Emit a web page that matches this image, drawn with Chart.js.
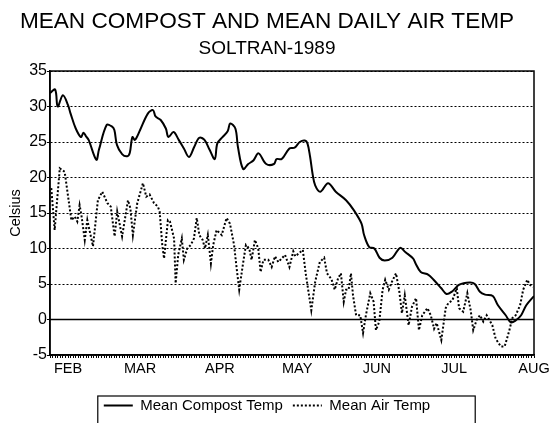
<!DOCTYPE html>
<html>
<head>
<meta charset="utf-8">
<script src="https://cdn.jsdelivr.net/npm/chart.js@4.4.0/dist/chart.umd.min.js"></script>
<style>
  body { margin: 0; background: #fff; }
</style>
</head>
<body>
<canvas id="grafico" width="558" height="423"></canvas>
<script>
// dias contados a partir de 25 de janeiro de 1989
const monthNames = ['FEB', 'MAR', 'APR', 'MAY', 'JUN', 'JUL', 'AUG'];
const monthStartDays = [7, 35, 66, 96, 127, 157, 188];
const yTicks = [-5, 0, 5, 10, 15, 20, 25, 30, 35];

const compostDays = [0, 2, 3, 5, 7, 8, 10, 12, 13, 14, 15, 18, 19, 22, 24, 25, 26, 28, 30, 31, 32, 33, 35, 38, 40,
  41, 43, 45, 46, 48, 50, 52, 54, 56, 58, 60, 62, 64, 65, 67, 69, 70, 72, 73, 75, 77, 79, 81, 84, 87, 88, 90,
  93, 95, 97, 99, 100, 101, 102, 103, 105, 108, 111, 115, 118, 121, 122, 124, 126, 128, 130, 133, 136, 138,
  141, 142, 144, 147, 149, 152, 154, 156, 159, 163, 165, 167, 169, 172, 174, 177, 179, 181, 183, 185, 188];
const compostTemp = [31.9, 32.4, 30.0, 31.6, 30.2, 29.0, 26.9, 25.7, 26.3, 25.8, 25.3, 22.5, 23.9, 27.4, 27.2, 26.7,
  24.6, 23.3, 23.0, 23.5, 25.7, 25.3, 26.7, 29.0, 29.5, 28.6, 28.1, 26.9, 25.7, 26.4, 25.3, 24.1, 22.9, 24.3,
  25.6, 25.3, 23.9, 22.6, 24.8, 25.7, 26.5, 27.6, 26.9, 24.3, 21.2, 21.9, 22.4, 23.4, 21.9, 21.9, 22.6, 22.6,
  24.1, 24.2, 25.0, 25.2, 24.8, 23.0, 20.5, 18.9, 18.0, 19.2, 18.0, 16.8, 15.4, 13.5, 11.9, 10.2, 10.0, 8.7,
  8.3, 8.7, 10.1, 9.5, 8.6, 7.9, 6.7, 6.3, 5.6, 4.4, 3.6, 3.9, 4.9, 5.2, 5.0, 3.9, 3.5, 3.3, 2.0, 0.6, -0.4,
  -0.1, 0.6, 2.0, 3.3];

const airDays = [0.5, 1.8, 3.8, 5.7, 8.3, 9.6, 10.6, 11.5, 12.2, 13.5, 14.5, 16.7, 18.6, 20.3, 22.3, 23.6, 25.1,
  26.1, 28.0, 30.3, 31.2, 32.2, 33.9, 36.1, 37.4, 38.7, 40.4, 41.9, 42.6, 43.6, 44.3, 45.8, 46.6, 48.2, 48.8,
  49.8, 51.2, 52.0, 53.3, 54.7, 55.9, 57.0, 58.0, 59.3, 60.2, 61.3, 61.9, 62.5, 63.4, 64.7, 66.7, 68.6, 69.9,
  71.5, 72.5, 73.5, 74.9, 76.1, 77.4, 78.3, 79.6, 80.9, 81.8, 82.9, 84.8, 86.1, 87.4, 88.7, 90.0, 91.3, 93.0,
  94.5, 95.3, 96.6, 98.2, 99.4, 101.5, 103.0, 104.8, 106.5, 107.6, 109.3, 110.6, 111.9, 113.0, 114.1, 115.0,
  116.0, 116.9, 117.7, 118.9, 120.5, 121.6, 122.7, 124.4, 125.7, 126.6, 127.9, 129.2, 130.2, 131.6, 132.8,
  134.4, 135.7, 136.7, 137.8, 139.3, 140.6, 142.2, 143.3, 144.6, 146.6, 147.9, 149.2, 150.2, 152.0, 153.7,
  154.7, 156.3, 158.0, 158.9, 160.5, 162.1, 163.4, 164.4, 165.7, 167.0, 168.3, 169.6, 171.8, 173.1, 175.1,
  176.6, 178.3, 179.6, 180.9, 182.6, 183.8, 185.4, 186.4, 187.7];
const airTemp = [18.5, 12.6, 21.3, 20.8, 14.0, 14.5, 13.8, 16.1, 14.7, 11.2, 14.0, 10.3, 16.8, 18.0, 16.4, 15.9,
  11.7, 15.2, 11.7, 16.8, 15.7, 11.9, 16.4, 19.2, 17.3, 17.6, 16.4, 15.9, 15.2, 10.5, 8.6, 14.0, 13.8, 11.4,
  5.1, 9.1, 11.4, 8.4, 10.0, 10.5, 11.4, 14.3, 11.9, 11.2, 10.0, 11.9, 10.0, 7.9, 10.5, 12.6, 11.9, 14.3, 13.5,
  10.5, 7.2, 4.2, 7.7, 10.5, 10.0, 8.4, 11.2, 10.0, 6.7, 8.4, 8.4, 7.4, 8.9, 8.1, 8.6, 9.1, 7.4, 9.6, 8.9, 9.3,
  9.8, 6.3, 1.3, 5.3, 8.1, 8.7, 6.5, 5.7, 4.2, 5.8, 6.5, 2.5, 4.2, 4.2, 6.5, 3.4, 0.6, 0.6, -1.9, 0.6, 3.7, 2.5,
  -1.5, -0.3, 4.2, 5.6, 4.2, 5.3, 6.5, 3.9, 0.9, 3.4, -0.8, 1.8, 3.0, -1.5, 0.6, 1.6, 0.6, -1.3, -0.5, -2.9,
  1.6, 2.3, 2.7, 4.4, 1.6, 1.1, 3.7, 1.3, -1.5, -0.1, 0.6, -0.3, 0.6, -0.8, -2.7, -3.8, -3.8, -1.7, 0.2, 0.6,
  2.0, 4.2, 5.6, 4.9, 4.6];

Chart.defaults.font.family = '"Liberation Sans", Arial, sans-serif';
Chart.defaults.color = '#000';

// moldura do gráfico, linha do zero e caixa da legenda
const moldura = {
  id: 'moldura',
  beforeDatasetsDraw(chart) {
    const { ctx, chartArea: a, scales: { y } } = chart;
    ctx.save();
    ctx.strokeStyle = '#000';
    ctx.lineWidth = 1.5;
    ctx.strokeRect(a.left, a.top, a.right - a.left, a.bottom - a.top);
    const y0 = y.getPixelForValue(0);
    ctx.lineWidth = 1.3;
    ctx.beginPath();
    ctx.moveTo(a.left, y0);
    ctx.lineTo(a.right, y0);
    ctx.stroke();
    ctx.restore();
  },
  afterDraw(chart) {
    const hb = chart.legend.legendHitBoxes;
    if (!hb || !hb.length) return;
    const last = hb[hb.length - 1];
    const ctx = chart.ctx;
    const left = hb[0].left - 6;
    const right = last.left + last.width + 45;
    const top = hb[0].top - 2;
    ctx.save();
    ctx.strokeStyle = '#000';
    ctx.lineWidth = 1.2;
    ctx.strokeRect(left, top, right - left, chart.height + 5 - top);
    ctx.restore();
  }
};

new Chart(document.getElementById('grafico'), {
  type: 'line',
  data: {
    datasets: [
      {
        label: 'Mean Compost Temp',
        data: compostDays.map((d, i) => ({ x: d, y: compostTemp[i] })),
        borderColor: '#000',
        backgroundColor: 'rgba(0,0,0,0)',
        borderWidth: 2,
        pointRadius: 0,
        tension: 0.35
      },
      {
        label: 'Mean Air Temp',
        data: airDays.map((d, i) => ({ x: d, y: airTemp[i] })),
        borderColor: '#000',
        backgroundColor: 'rgba(0,0,0,0)',
        borderWidth: 2,
        borderDash: [2, 2],
        pointRadius: 0,
        tension: 0
      }
    ]
  },
  options: {
    responsive: false,
    animation: false,
    devicePixelRatio: 1,
    layout: { padding: { top: 0, right: 24, bottom: 0, left: 0 } },
    plugins: {
      title: {
        display: true,
        text: 'MEAN COMPOST AND MEAN DAILY AIR TEMP',
        font: { size: 22.6, weight: 'normal' },
        padding: { top: 8, bottom: 0 }
      },
      subtitle: {
        display: true,
        text: 'SOLTRAN-1989',
        font: { size: 19, weight: 'normal' },
        padding: { top: 2.3, bottom: 10.8 }
      },
      legend: {
        position: 'bottom',
        labels: {
          boxWidth: 29,
          boxHeight: 0,
          padding: 10,
          font: { size: 15 }
        }
      },
      tooltip: { enabled: false }
    },
    scales: {
      x: {
        type: 'linear',
        min: 0,
        max: 188,
        afterFit: (s) => { s.height = 33; },
        grid: { drawOnChartArea: false, tickLength: 3, color: '#000', lineWidth: 1 },
        border: { color: '#000', width: 1.5 },
        ticks: {
          stepSize: 1,
          autoSkip: false,
          maxRotation: 0,
          minRotation: 0,
          padding: 2,
          font: { size: 14.5 },
          callback: (v) => {
            const i = monthStartDays.indexOf(v);
            return i >= 0 ? monthNames[i] : '';
          }
        }
      },
      y: {
        min: yTicks[0],
        max: yTicks[yTicks.length - 1],
        afterFit: (s) => { s.width = 50; },
        afterBuildTicks: (s) => { s.ticks = yTicks.map(v => ({ value: v })); },
        grid: { color: '#000', lineWidth: 1, tickLength: 3, tickColor: '#000' },
        border: { color: '#000', width: 1.5, dash: [2, 2] },
        ticks: { padding: 0, font: { size: 16 } },
        title: {
          display: true,
          text: 'Celsius',
          font: { size: 14.5 },
          padding: { top: 7, bottom: 0 }
        }
      }
    }
  },
  plugins: [moldura]
});
</script>
</body>
</html>
